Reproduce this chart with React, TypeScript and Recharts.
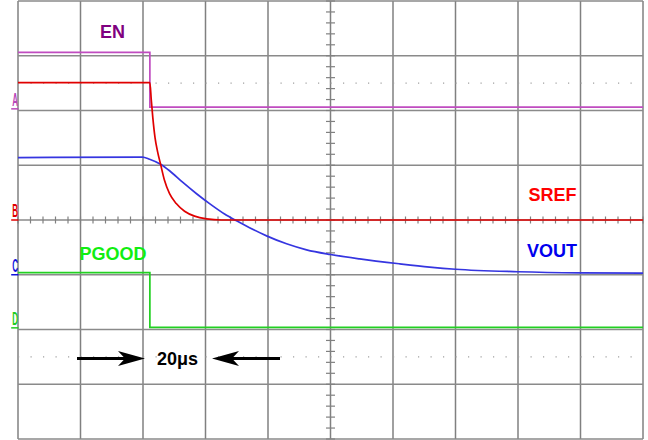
import { LineChart, Line, XAxis, YAxis, ReferenceLine, ReferenceDot } from "recharts";

// time in divisions (10 div), level in divisions (8 div)
const EN_T = [0, 2.11, 2.11, 10];
const EN_V = [7.06, 7.06, 6.06, 6.06];

const SREF_T = [0, 2.11, 2.132, 2.157, 2.193, 2.233, 2.281, 2.345, 2.425, 2.532, 2.665, 2.825, 3.017, 3.257, 10];
const SREF_V = [6.51, 6.51, 6.2, 5.87, 5.5, 5.25, 5.02, 4.72, 4.48, 4.3, 4.16, 4.07, 4.02, 4.0, 4.0];

const VOUT_T = [0, 1.99, 2.105, 2.281, 2.425, 2.633, 2.857, 3.065, 3.305, 3.497, 3.705, 3.977, 4.297, 4.617, 5.0, 5.465, 6.105, 6.585, 7.0, 7.994, 8.986, 10];
const VOUT_V = [5.14, 5.15, 5.11, 5.02, 4.9, 4.69, 4.48, 4.3, 4.11, 3.985, 3.86, 3.71, 3.565, 3.455, 3.37, 3.29, 3.2, 3.14, 3.1, 3.055, 3.035, 3.03];

const PGOOD_T = [0, 2.11, 2.11, 10];
const PGOOD_V = [3.04, 3.04, 2.04, 2.04];

const GRID_X = [0, 1, 2, 3, 4, 5, 6, 7, 8, 9, 10];
const GRID_Y = [0, 1, 2, 3, 4, 5, 6, 7, 8];
const CURSOR_Y = [6.5, 1.5];
const MINOR_X = Array.from({ length: 51 }, (_, i) => i * 0.2);
const MINOR_Y = Array.from({ length: 41 }, (_, i) => i * 0.2);

const CHANNELS = [
  { name: "A", level: 6.03, color: "#b848b8" },
  { name: "B", level: 4.0, color: "#e00000" },
  { name: "C", level: 3.0, color: "#1010dd" },
  { name: "D", level: 2.03, color: "#22cc22" },
];

const LABELS = [
  { text: "EN", t: 1.512, v: 7.324, color: "#800080" },
  { text: "PGOOD", t: 1.52, v: 3.269, color: "#11ee11" },
  { text: "SREF", t: 8.552, v: 4.347, color: "#ff0000" },
  { text: "VOUT", t: 8.544, v: 3.333, color: "#0000ee" },
  { text: "20\u03bcs", t: 2.552, v: 1.352, color: "#000000" },
];

const FONT = "'Liberation Sans', Arial, sans-serif";

const toRows = (ts: number[], vs: number[]) => ts.map((t, i) => ({ t, v: vs[i] }));

const ArrowHead = (dir: 1 | -1) => (p: any) => {
  const { cx, cy } = p;
  const pts = [
    [cx, cy],
    [cx - dir * 27, cy - 7.5],
    [cx - dir * 20, cy],
    [cx - dir * 27, cy + 7.5],
  ]
    .map((q) => q.join(","))
    .join(" ");
  return <polygon points={pts} fill="#000" />;
};

export default function App() {
  return (
    <div style={{ width: 648, height: 440, background: "#fff" }}>
      <style>{`body{margin:0}`}</style>
      <LineChart width={648} height={440} margin={{ top: 1, right: 5, bottom: 1, left: 18 }}>
        <XAxis type="number" dataKey="t" domain={[0, 10]} hide allowDataOverflow />
        <YAxis type="number" domain={[0, 8]} hide allowDataOverflow />

        {GRID_X.map((x) => (
          <ReferenceLine key={`gx${x}`} x={x} stroke="#808080" strokeWidth={1.5} />
        ))}
        {GRID_Y.map((y) => (
          <ReferenceLine key={`gy${y}`} y={y} stroke="#8a8a8a" strokeWidth={1.5} />
        ))}
        {CURSOR_Y.map((y) => (
          <ReferenceLine key={`cy${y}`} y={y} stroke="#a0a0a0" strokeWidth={1.2} strokeDasharray="1.2 11.3" />
        ))}
        {MINOR_Y.map((y) => (
          <ReferenceLine
            key={`my${y}`}
            segment={[{ x: 4.928, y }, { x: 5.072, y }]}
            stroke="#808080"
            strokeWidth={1.2}
          />
        ))}
        {MINOR_X.map((x) => (
          <ReferenceLine
            key={`mx${x}`}
            segment={[{ x, y: 3.936 }, { x, y: 4.064 }]}
            stroke="#808080"
            strokeWidth={1.2}
          />
        ))}

        <Line data={toRows(EN_T, EN_V)} dataKey="v" type="linear" stroke="#c04cc0" strokeWidth={1.7} dot={false} isAnimationActive={false} />
        <Line data={toRows(PGOOD_T, PGOOD_V)} dataKey="v" type="linear" stroke="#22d022" strokeWidth={1.7} dot={false} isAnimationActive={false} />
        <Line data={toRows(VOUT_T, VOUT_V)} dataKey="v" type="monotone" stroke="#3535e0" strokeWidth={1.7} dot={false} isAnimationActive={false} />
        <Line data={toRows(SREF_T, SREF_V)} dataKey="v" type="monotone" stroke="#e00000" strokeWidth={1.7} dot={false} isAnimationActive={false} />

        {/* 20us arrows */}
        <ReferenceLine segment={[{ x: 0.944, y: 1.47 }, { x: 1.75, y: 1.47 }]} stroke="#000" strokeWidth={3} />
        <ReferenceLine segment={[{ x: 3.4, y: 1.47 }, { x: 4.192, y: 1.47 }]} stroke="#000" strokeWidth={3} />
        <ReferenceDot x={2.032} y={1.47} ifOverflow="visible" shape={ArrowHead(1)} />
        <ReferenceDot x={3.104} y={1.47} ifOverflow="visible" shape={ArrowHead(-1)} />

        {LABELS.map((l) => (
          <ReferenceDot
            key={l.text}
            x={l.t}
            y={l.v}
            ifOverflow="visible"
            shape={(p: any) => (
              <text x={p.cx} y={p.cy} textAnchor="middle" fill={l.color} fontSize={18} fontWeight="bold" fontFamily={FONT}>
                {l.text}
              </text>
            )}
          />
        ))}

        {CHANNELS.map((c) => (
          <ReferenceDot
            key={c.name}
            x={-0.048}
            y={c.level}
            ifOverflow="visible"
            shape={(p: any) => (
              <g>
                <text
                  x={p.cx - 2.8}
                  y={p.cy - 3}
                  fill={c.color}
                  fontSize={19}
                  fontWeight="bold"
                  fontFamily={FONT}
                  textLength={5.8}
                  lengthAdjust="spacingAndGlyphs"
                >
                  {c.name}
                </text>
                <line x1={p.cx - 3.8} x2={p.cx + 3.5} y1={p.cy} y2={p.cy} stroke={c.color} strokeWidth={1.5} />
              </g>
            )}
          />
        ))}
      </LineChart>
    </div>
  );
}
